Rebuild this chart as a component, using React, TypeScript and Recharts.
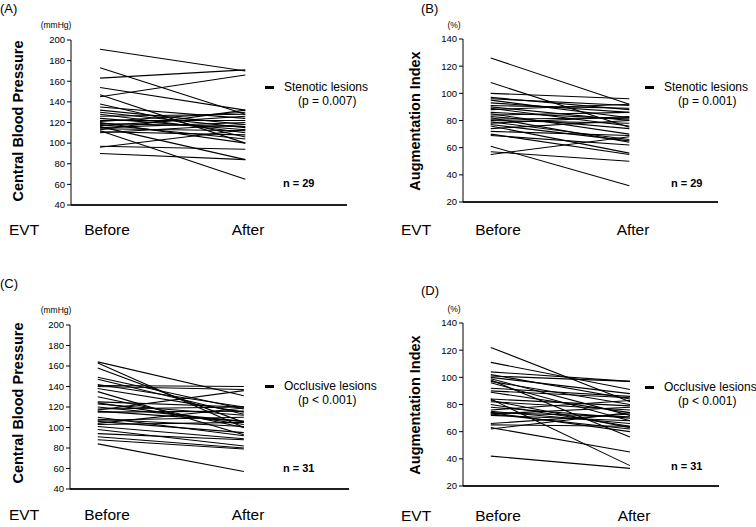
import React from 'react';
import { LineChart, Line, XAxis, YAxis, ReferenceLine, CartesianGrid } from 'recharts';

// paired values: before[i] -> after[i]
const stenoticCbpBefore = [191, 173, 163, 154, 147, 145, 138, 135, 132, 130, 128, 126, 124, 122, 121, 119, 118, 117, 116, 115, 114, 113, 112, 111, 110, 120, 97, 96, 90];
const stenoticCbpAfter = [170, 128, 171, 132, 100, 166, 106, 124, 118, 115, 110, 128, 113, 122, 130, 116, 104, 126, 84, 120, 112, 132, 65, 108, 118, 100, 94, 113, 84];

const stenoticAiBefore = [126, 108, 100, 97, 96, 95, 93, 91, 90, 89, 88, 86, 85, 84, 83, 82, 81, 80, 79, 78, 77, 76, 74, 72, 70, 69, 61, 57, 55];
const stenoticAiAfter = [92, 75, 96, 88, 91, 82, 86, 89, 80, 76, 92, 81, 70, 86, 74, 64, 82, 78, 66, 83, 65, 56, 80, 69, 55, 62, 32, 50, 68];

const occlusiveCbpBefore = [164, 163, 158, 149, 147, 142, 141, 140, 138, 135, 130, 125, 124, 123, 120, 118, 117, 116, 115, 110, 108, 107, 106, 104, 103, 101, 98, 94, 91, 88, 84];
const occlusiveCbpAfter = [131, 100, 105, 118, 113, 120, 140, 137, 115, 93, 100, 120, 103, 112, 106, 120, 136, 106, 116, 92, 101, 110, 95, 119, 105, 89, 82, 88, 80, 79, 57];

const occlusiveAiBefore = [122, 111, 104, 102, 101, 100, 99, 98, 97, 96, 92, 90, 89, 84, 84, 83, 82, 80, 78, 76, 75, 74, 74, 73, 73, 72, 66, 65, 63, 62, 42];
const occlusiveAiAfter = [82, 91, 97, 84, 97, 88, 72, 56, 80, 68, 86, 85, 74, 35, 79, 63, 76, 64, 70, 83, 66, 60, 71, 78, 62, 68, 73, 64, 45, 74, 33];

const cbpTicks = [40, 60, 80, 100, 120, 140, 160, 180, 200];
const aiTicks = [20, 40, 60, 80, 100, 120, 140];
const timeLabels = ['Before', 'After'];

const FONT = '"Liberation Sans", Arial, sans-serif';

const toRows = (before: number[], after: number[]) => {
  const b: Record<string, number> = { t: 0 };
  const a: Record<string, number> = { t: 1 };
  before.forEach((v, i) => {
    b['s' + i] = v;
    a['s' + i] = after[i];
  });
  return [b, a];
};

type PanelProps = {
  left: number;
  top: number;
  tag: string;
  unit: string;
  title: string;
  before: number[];
  after: number[];
  ticks: number[];
  margin: { top: number; right: number; bottom: number; left: number };
  yWidth: number;
  xDomain: [number, number];
  tagPos: [number, number];
  unitPos: [number, number];
  titlePos: [number, number];
  evtPos: [number, number];
  labelX: [number, number];
  legendPos: [number, number];
  lesion: string;
  pText: string;
  nText: string;
  nPos: [number, number];
};

const abs = (x: number, y: number, extra: React.CSSProperties = {}): React.CSSProperties => ({
  position: 'absolute',
  left: x,
  top: y,
  fontFamily: FONT,
  whiteSpace: 'nowrap',
  lineHeight: 1,
  ...extra,
});

// the Before/After words sit lower than the svg allows, so they are html below
const BlankTick = (props: any) => <text x={props.x} y={props.y} fontSize={1} fill="none"> </text>;

const Panel = (p: PanelProps) => {
  const rows = toRows(p.before, p.after);
  const yMin = p.ticks[0];
  const yMax = p.ticks[p.ticks.length - 1];
  return (
    <div style={{ position: 'absolute', left: p.left, top: p.top, width: 378, height: 260 }}>
      <LineChart width={378} height={260} data={rows} margin={p.margin}>
        <CartesianGrid vertical={false} horizontalValues={[yMin]} stroke="#000" strokeDasharray="0" />
        <XAxis
          dataKey="t"
          type="number"
          domain={p.xDomain}
          ticks={[0, 1]}
          tick={BlankTick}
          tickLine={false}
          axisLine={{ stroke: '#000', strokeWidth: 1 }}
          height={20}
          interval={0}
          allowDataOverflow
        />
        <YAxis
          type="number"
          domain={[yMin, yMax]}
          ticks={p.ticks}
          width={p.yWidth}
          tickSize={4}
          stroke="#000"
          tick={{ fill: '#000', fontSize: 9.5, fontFamily: FONT }}
          interval={0}
        />
        <ReferenceLine
          stroke="#000"
          ifOverflow="visible"
          segment={[
            { x: p.xDomain[0], y: yMin },
            { x: p.xDomain[1], y: yMin },
          ]}
        />
        {p.before.map((_, i) => (
          <Line
            key={i}
            dataKey={'s' + i}
            stroke="#000"
            strokeWidth={1.1}
            dot={false}
            isAnimationActive={false}
          />
        ))}
      </LineChart>
      <div style={abs(p.tagPos[0], p.tagPos[1], { fontSize: 13 })}>{p.tag}</div>
      <div style={abs(p.unitPos[0], p.unitPos[1], { fontSize: 8.5, transform: 'translate(-50%,-50%)' })}>{p.unit}</div>
      <div
        style={abs(p.titlePos[0], p.titlePos[1], {
          fontSize: 14.5,
          fontWeight: 'bold',
          transform: 'translate(-50%,-50%) rotate(-90deg)',
        })}
      >
        {p.title}
      </div>
      <div style={abs(p.evtPos[0], p.evtPos[1], { fontSize: 15.5, transform: 'translateY(-50%)' })}>EVT</div>
      {timeLabels.map((lab, i) => (
        <div key={lab} style={abs(p.labelX[i], p.evtPos[1], { fontSize: 15.5, transform: 'translate(-50%,-50%)' })}>
          {lab}
        </div>
      ))}
      <div style={{ position: 'absolute', left: p.legendPos[0], top: p.legendPos[1] - 1.5, width: 9, height: 3, background: '#000' }} />
      <div style={abs(p.legendPos[0] + 19, p.legendPos[1], { fontSize: 12, transform: 'translateY(-50%)' })}>{p.lesion}</div>
      <div style={abs(p.legendPos[0] + 33, p.legendPos[1] + 14, { fontSize: 12, transform: 'translateY(-50%)' })}>{p.pText}</div>
      <div style={abs(p.nPos[0], p.nPos[1], { fontSize: 11, fontWeight: 'bold', transform: 'translateY(-50%)' })}>{p.nText}</div>
    </div>
  );
};

export default function App() {
  return (
    <div style={{ position: 'fixed', left: 0, top: 0, width: 756, height: 527, background: '#fff', overflow: 'hidden' }}>
      <Panel
        left={0}
        top={0}
        tag="(A)"
        unit="(mmHg)"
        title="Central Blood Pressure"
        before={stenoticCbpBefore}
        after={stenoticCbpAfter}
        ticks={cbpTicks}
        margin={{ top: 40, right: 31, bottom: 35, left: 0 }}
        yWidth={71}
        xDomain={[-0.2, 1.7]}
        tagPos={[0, 2]}
        unitPos={[56, 25]}
        titlePos={[18, 121]}
        evtPos={[9, 230]}
        labelX={[107, 248]}
        legendPos={[265, 87]}
        lesion="Stenotic lesions"
        pText="(p = 0.007)"
        nText="n = 29"
        nPos={[283, 183]}
      />
      <Panel
        left={378}
        top={0}
        tag="(B)"
        unit="(%)"
        title="Augmentation Index"
        before={stenoticAiBefore}
        after={stenoticAiAfter}
        ticks={aiTicks}
        margin={{ top: 39, right: 38, bottom: 38, left: 0 }}
        yWidth={85}
        xDomain={[-0.2, 1.64]}
        tagPos={[43, 2]}
        unitPos={[76, 25]}
        titlePos={[37, 121]}
        evtPos={[23, 230]}
        labelX={[120, 255]}
        legendPos={[267, 87]}
        lesion="Stenotic lesions"
        pText="(p = 0.001)"
        nText="n = 29"
        nPos={[293, 183]}
      />
      <Panel
        left={0}
        top={260}
        tag="(C)"
        unit="(mmHg)"
        title="Central Blood Pressure"
        before={occlusiveCbpBefore}
        after={occlusiveCbpAfter}
        ticks={cbpTicks}
        margin={{ top: 65, right: 29, bottom: 11, left: 0 }}
        yWidth={70}
        xDomain={[-0.19, 1.72]}
        tagPos={[0, 17]}
        unitPos={[56, 50]}
        titlePos={[18, 143]}
        evtPos={[9, 255]}
        labelX={[107, 248]}
        legendPos={[265, 126]}
        lesion="Occlusive lesions"
        pText="(p < 0.001)"
        nText="n = 31"
        nPos={[283, 208]}
      />
      <Panel
        left={378}
        top={260}
        tag="(D)"
        unit="(%)"
        title="Augmentation Index"
        before={occlusiveAiBefore}
        after={occlusiveAiAfter}
        ticks={aiTicks}
        margin={{ top: 63, right: 37, bottom: 14, left: 0 }}
        yWidth={85}
        xDomain={[-0.2, 1.64]}
        tagPos={[43, 24]}
        unitPos={[76, 49]}
        titlePos={[37, 145]}
        evtPos={[23, 256]}
        labelX={[120, 256]}
        legendPos={[267, 127]}
        lesion="Occlusive lesions"
        pText="(p < 0.001)"
        nText="n = 31"
        nPos={[293, 206]}
      />
    </div>
  );
}
